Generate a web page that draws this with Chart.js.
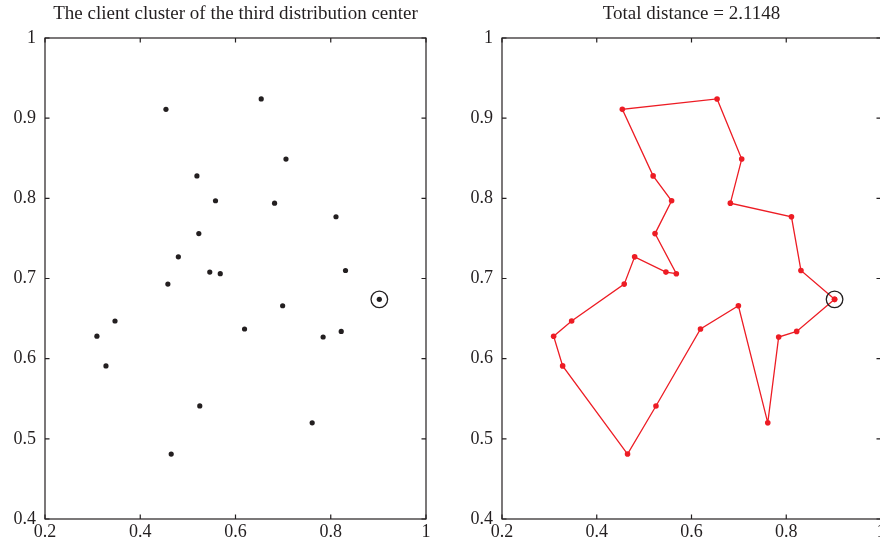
<!DOCTYPE html>
<html>
<head>
<meta charset="utf-8">
<script src="https://cdn.jsdelivr.net/npm/chart.js@4.4.1/dist/chart.umd.min.js"></script>
<style>
html, body { margin: 0; padding: 0; background: #fff; overflow: hidden; width: 880px; height: 550px; }
#left { position: absolute; left: 0; top: 0; width: 440px; height: 550px; }
#right { position: absolute; left: 440px; top: 0; width: 460px; height: 550px; }
</style>
</head>
<body>
<div id="left"><canvas id="clusterChart"></canvas></div>
<div id="right"><canvas id="routeChart"></canvas></div>
<script>
// depot (distribution center)
const depot = [0.902, 0.674];

// clients in visiting order of the route
const routeX = [0.831, 0.811, 0.682, 0.706, 0.654, 0.454, 0.519, 0.558, 0.523, 0.568, 0.546, 0.480,
                0.458, 0.347, 0.309, 0.328, 0.465, 0.525, 0.619, 0.699, 0.761, 0.784, 0.822];
const routeY = [0.710, 0.777, 0.794, 0.849, 0.924, 0.911, 0.828, 0.797, 0.756, 0.706, 0.708, 0.727,
                0.693, 0.647, 0.628, 0.591, 0.481, 0.541, 0.637, 0.666, 0.520, 0.627, 0.634];

// tick labels
const xTicks = [0.2, 0.4, 0.6, 0.8, 1];
const yTicks = [0.4, 0.5, 0.6, 0.7, 0.8, 0.9, 1];

const titles = ['The client cluster of the third distribution center', 'Total distance = 2.1148'];

const ink = '#231f20';
const red = '#ed1c24';
const serif = 'Liberation Serif, DejaVu Serif, serif';

const clients = routeX.map((x, i) => ({ x: x, y: routeY[i] }));
const depotPt = [{ x: depot[0], y: depot[1] }];
const tour = [depotPt[0]].concat(clients, [depotPt[0]]);

// box round the plot with inward ticks, like matlab
const framePlugin = {
    id: 'frame',
    afterDatasetsDraw(chart) {
        const { ctx, chartArea: a, scales: { x, y } } = chart;
        const tl = 4.5;
        ctx.save();
        ctx.strokeStyle = ink;
        ctx.lineWidth = 1.2;
        ctx.strokeRect(a.left, a.top, a.width, a.height);
        ctx.beginPath();
        x.ticks.forEach(t => {
            const px = x.getPixelForValue(t.value);
            ctx.moveTo(px, a.bottom); ctx.lineTo(px, a.bottom - tl);
            ctx.moveTo(px, a.top); ctx.lineTo(px, a.top + tl);
        });
        y.ticks.forEach(t => {
            const py = y.getPixelForValue(t.value);
            ctx.moveTo(a.left, py); ctx.lineTo(a.left + tl, py);
            ctx.moveTo(a.right, py); ctx.lineTo(a.right - tl, py);
        });
        ctx.stroke();
        ctx.restore();
    }
};

function makeScales(yWidth) {
    const font = { family: serif, size: 18 };
    return {
        x: {
            type: 'linear', min: 0.2, max: 1,
            afterBuildTicks: s => { s.ticks = xTicks.map(v => ({ value: v })); },
            ticks: { color: ink, font: font, padding: 2, maxRotation: 0, callback: v => String(v) },
            grid: { display: false, drawTicks: false },
            border: { display: false },
            afterFit: s => { s.height = 31; }
        },
        y: {
            type: 'linear', min: 0.4, max: 1,
            afterBuildTicks: s => { s.ticks = yTicks.map(v => ({ value: v })); },
            ticks: { color: ink, font: font, padding: 9, callback: v => String(v) },
            grid: { display: false, drawTicks: false },
            border: { display: false },
            afterFit: s => { s.width = yWidth; }
        }
    };
}

function makeOptions(title, yWidth, padRight) {
    return {
        responsive: true,
        maintainAspectRatio: false,
        animation: false,
        layout: { padding: { top: 0, right: padRight, bottom: 0, left: 0 } },
        scales: makeScales(yWidth),
        plugins: {
            legend: { display: false },
            tooltip: { enabled: false },
            title: {
                display: true, text: title, fullSize: false, color: ink,
                font: { family: serif, size: 19, weight: 'normal' },
                padding: { top: 3, bottom: 12.2 }
            }
        }
    };
}

const ring = {
    data: depotPt, pointRadius: 8.3, pointBackgroundColor: 'rgba(0,0,0,0)',
    pointBorderColor: ink, pointBorderWidth: 1.3, showLine: false
};

new Chart(document.getElementById('clusterChart'), {
    type: 'scatter',
    data: {
        datasets: [
            ring,
            { data: clients.concat(depotPt), pointRadius: 2.6, pointBackgroundColor: ink, pointBorderWidth: 0 }
        ]
    },
    options: makeOptions(titles[0], 45, 14),
    plugins: [framePlugin]
});

new Chart(document.getElementById('routeChart'), {
    type: 'scatter',
    data: {
        datasets: [
            Object.assign({}, ring),
            {
                data: tour, showLine: true, borderColor: red, borderWidth: 1.3,
                pointRadius: 2.8, pointBackgroundColor: red, pointBorderWidth: 0
            }
        ]
    },
    options: makeOptions(titles[1], 62, 19),
    plugins: [framePlugin]
});
</script>
</body>
</html>
